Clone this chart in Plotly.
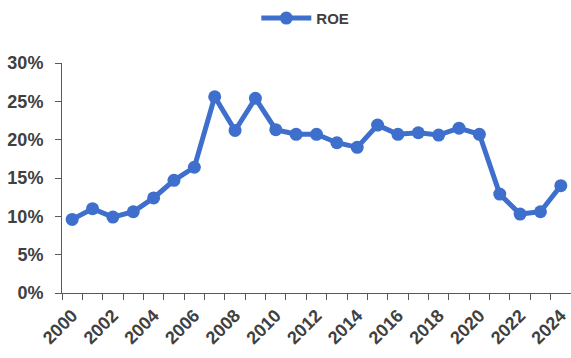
import plotly.graph_objects as go

# Annual return on equity, 2000-2024 (percent)
years = [str(y) for y in range(2000, 2025)]
roe = [9.6, 11.0, 9.9, 10.6, 12.4, 14.7, 16.4, 25.6, 21.2, 25.4, 21.3, 20.7,
       20.7, 19.6, 19.0, 21.9, 20.7, 20.9, 20.6, 21.5, 20.7, 12.9, 10.3, 10.6, 14.0]

y_ticks = [0, 5, 10, 15, 20, 25, 30]
y_ticktext = [f"{v}%" for v in y_ticks]
x_ticktext = [y if int(y) % 2 == 0 else "" for y in years]

blue = "#3F6FCC"
axis_grey = "#595959"
text_grey = "#404040"

fig = go.Figure()
fig.add_trace(go.Scatter(
    x=years, y=roe, name="ROE", mode="lines+markers",
    line=dict(color=blue, width=5),
    marker=dict(color=blue, size=13),
))

fig.update_layout(
    width=571, height=358,
    margin=dict(l=62, r=0, t=63, b=65),
    paper_bgcolor="white", plot_bgcolor="white",
    font=dict(family="Liberation Sans, Arial, sans-serif", size=16, color=text_grey),
    showlegend=True,
    legend=dict(orientation="h", x=0.478, xanchor="center", y=0.995, yanchor="top",
                yref="container", font=dict(size=15, color=text_grey, weight="bold"),
                itemwidth=50),
    xaxis=dict(
        type="category", range=[-0.5, 24.5],
        tickmode="array", tickvals=years, ticktext=x_ticktext,
        tickson="boundaries", ticks="outside", ticklen=6, tickwidth=1,
        tickcolor=axis_grey, tickangle=-45,
        showline=True, linecolor=axis_grey, linewidth=1,
        showgrid=False, zeroline=False, ticklabelstandoff=4,
        tickfont=dict(size=18, color=text_grey, weight="bold"),
    ),
    yaxis=dict(
        range=[0, 30], tickmode="array", tickvals=y_ticks, ticktext=y_ticktext,
        ticks="outside", ticklen=6, tickwidth=1, tickcolor=axis_grey,
        showline=True, linecolor=axis_grey, linewidth=1,
        showgrid=False, zeroline=False, ticklabelstandoff=8,
        tickfont=dict(size=18, color=text_grey, weight="bold"),
    ),
)

fig.write_html("out.html")
